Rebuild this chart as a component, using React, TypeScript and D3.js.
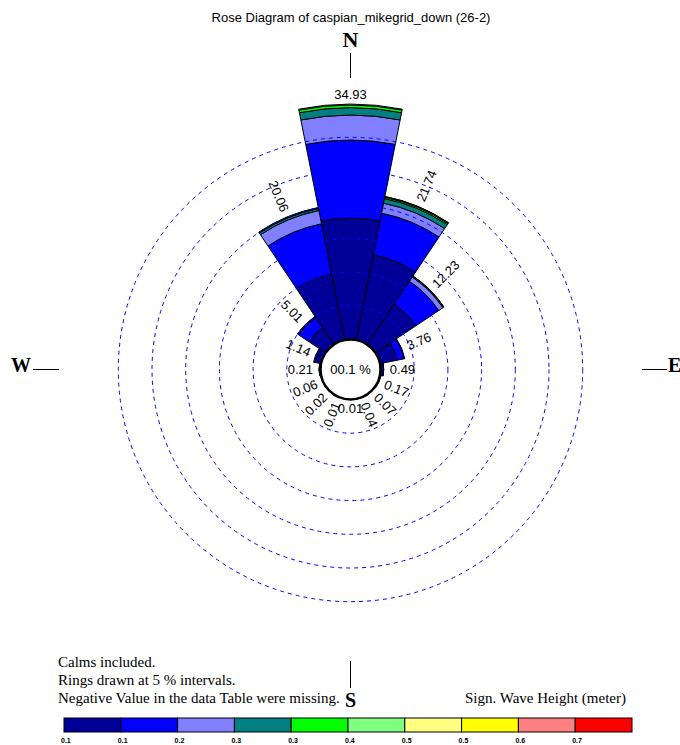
import React from "react";
import * as d3 from "d3";

const title = "Rose Diagram of caspian_mikegrid_down (26-2)";
const directions = ["N", "NNE", "NE", "ENE", "E", "ESE", "SE", "SSE", "S", "SSW", "SW", "WSW", "W", "WNW", "NW", "NNW"];
// total frequency (%) per direction
const totals = [34.93, 21.74, 12.23, 3.76, 0.49, 0.17, 0.07, 0.04, 0.01, 0.01, 0.02, 0.06, 0.21, 1.14, 5.01, 20.06];

// frequency (%) per wave height class, one value per direction
const class1 = [18.0, 12.9, 7.2, 2.6, 0.45, 0.17, 0.07, 0.04, 0.01, 0.01, 0.02, 0.06, 0.2, 0.9, 3.0, 10.0];
const class2 = [11.6, 6.3, 4.1, 1.1, 0.04, 0, 0, 0, 0, 0, 0, 0, 0.01, 0.24, 1.85, 7.6];
const class3 = [3.7, 1.5, 0.75, 0.06, 0, 0, 0, 0, 0, 0, 0, 0, 0, 0, 0.14, 2.0];
const class4 = [1.1, 0.7, 0.15, 0, 0, 0, 0, 0, 0, 0, 0, 0, 0, 0, 0.02, 0.3];
const class5 = [0.4, 0.2, 0.03, 0, 0, 0, 0, 0, 0, 0, 0, 0, 0, 0, 0, 0.1];
const class6 = [0.13, 0.1, 0, 0, 0, 0, 0, 0, 0, 0, 0, 0, 0, 0, 0, 0.06];
const class7 = [0, 0.04, 0, 0, 0, 0, 0, 0, 0, 0, 0, 0, 0, 0, 0, 0];
const classValues = [class1, class2, class3, class4, class5, class6, class7];

const classColors = ["#000099", "#0000FF", "#8080FF", "#008080", "#00FF00", "#80FF80", "#FFFF80", "#FFFF00", "#FF8080", "#FF0000"];
const legendLabels = ["0.1", "0.1", "0.2", "0.3", "0.3", "0.4", "0.5", "0.5", "0.6", "0.7"];
const ringValues = [5, 10, 15, 20, 25, 30];
const calmLabel = "00.1 %";
const notes = ["Calms included.", "Rings drawn at 5 % intervals.", "Negative Value in the data Table were missing."];
const legendTitle = "Sign. Wave Height (meter)";

const W = 680;
const H = 745;
const cx = 350.5;
const cy = 369.5;
const calmR = 30;

const sans = "'Liberation Sans', Arial, sans-serif";
const serif = "'Liberation Serif', 'Times New Roman', serif";

export default function App() {
  const r = d3.scaleLinear().domain([0, 35]).range([calmR, calmR + 6.74 * 35]);
  const sector = (2 * Math.PI) / directions.length;
  const arc = d3.arc<any>();

  const segments: { d: string; fill: string; key: string }[] = [];
  directions.forEach((dir, i) => {
    let cum = 0;
    classValues.forEach((vals, c) => {
      const v = vals[i];
      if (v <= 0) return;
      const d = arc({
        innerRadius: r(cum),
        outerRadius: r(cum + v),
        startAngle: i * sector - sector / 2,
        endAngle: i * sector + sector / 2,
      }) as string;
      segments.push({ d, fill: classColors[c], key: `${dir}-${c}` });
      cum += v;
    });
  });

  const labels = directions.map((dir, i) => {
    const deg = i * 22.5;
    const rad = (deg * Math.PI) / 180;
    const rEnd = r(totals[i]);
    const txt = totals[i].toFixed(2);
    if (i === 0) {
      return (
        <text key={dir} x={cx} y={cy - rEnd - 5} textAnchor="middle">{txt}</text>
      );
    }
    if (i === 8) {
      return (
        <text key={dir} x={cx} y={cy + rEnd + 13} textAnchor="middle">{txt}</text>
      );
    }
    const rr = rEnd + 6;
    const x = cx + rr * Math.sin(rad);
    const y = cy - rr * Math.cos(rad);
    const right = deg < 180;
    const rot = right ? deg - 90 : deg - 270;
    return (
      <text
        key={dir}
        x={x}
        y={y}
        dy="0.35em"
        textAnchor={right ? "start" : "end"}
        transform={`rotate(${rot},${x},${y})`}
      >
        {txt}
      </text>
    );
  });

  const legendX = d3.scaleLinear().domain([0, classColors.length]).range([64, 632]);

  return (
    <div style={{ position: "absolute", left: 0, top: 0 }}>
      <svg width={W} height={H} style={{ display: "block", background: "#fff" }}>
        <text x={351} y={22} textAnchor="middle" fontFamily={sans} fontSize={13}>{title}</text>

        {/* compass marks */}
        <text x={cx} y={47} textAnchor="middle" fontFamily={serif} fontWeight="bold" fontSize={22}>N</text>
        <line x1={cx} x2={cx} y1={53} y2={78} stroke="#000" strokeWidth={1} />
        <text x={11} y={372} fontFamily={serif} fontWeight="bold" fontSize={20}>W</text>
        <line x1={33} x2={59} y1={369.5} y2={369.5} stroke="#000" strokeWidth={1} />
        <line x1={642} x2={667} y1={369.5} y2={369.5} stroke="#000" strokeWidth={1} />
        <text x={668} y={372} fontFamily={serif} fontWeight="bold" fontSize={20}>E</text>
        <line x1={cx} x2={cx} y1={661} y2={688} stroke="#000" strokeWidth={1} />
        <text x={cx} y={707} textAnchor="middle" fontFamily={serif} fontWeight="bold" fontSize={20}>S</text>

        {/* stacked sectors */}
        <g transform={`translate(${cx},${cy})`}>
          {segments.map((s) => (
            <path key={s.key} d={s.d} fill={s.fill} stroke="#000" strokeWidth={1} strokeLinejoin="round" />
          ))}
          {ringValues.map((v) => (
            <circle key={v} r={r(v)} fill="none" stroke="#0000FF" strokeWidth={1} strokeDasharray="4 4" />
          ))}
          <circle r={calmR} fill="#fff" stroke="#000" strokeWidth={2.5} />
        </g>
        <text x={cx} y={374} textAnchor="middle" fontFamily={sans} fontSize={13}>{calmLabel}</text>

        <g fontFamily={sans} fontSize={13} fill="#000">{labels}</g>

        {/* notes */}
        <g fontFamily={serif} fontSize={15}>
          {notes.map((n, i) => (
            <text key={n} x={58} y={667 + i * 18}>{n}</text>
          ))}
          <text x={626} y={703} textAnchor="end">{legendTitle}</text>
        </g>

        {/* colour legend */}
        {classColors.map((c, i) => (
          <rect key={c} x={legendX(i)} y={718} width={legendX(i + 1) - legendX(i)} height={14} fill={c} stroke="#000" strokeWidth={1} />
        ))}
        {legendLabels.map((l, i) => (
          <text key={i} x={legendX(i) - 3} y={743} fontFamily={sans} fontWeight="bold" fontSize={7}>{l}</text>
        ))}
      </svg>
    </div>
  );
}
